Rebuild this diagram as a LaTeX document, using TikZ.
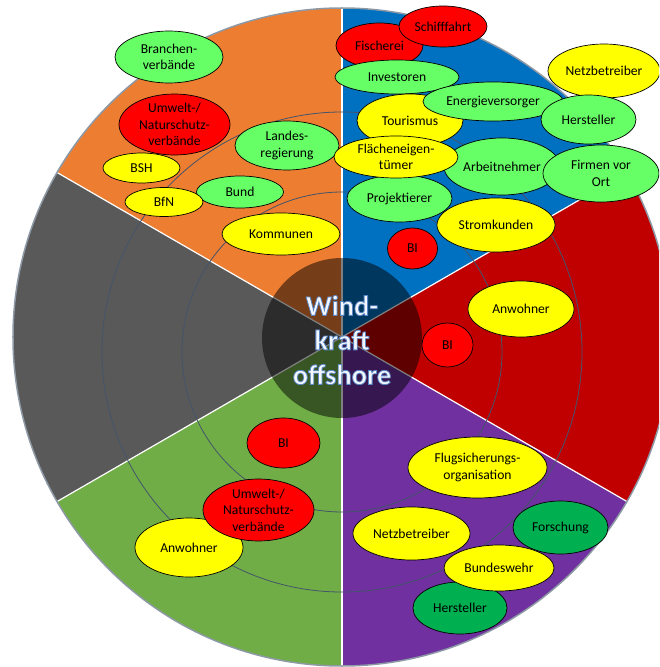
\documentclass[tikz,border=0pt]{standalone}
\usepackage{fontspec}
\setmainfont{Carlito}
\usepackage{tikz}
\usetikzlibrary{shapes}
\definecolor{secOrange}{HTML}{ED7D31}
\definecolor{secBlue}{HTML}{0070C0}
\definecolor{secRed}{HTML}{C00000}
\definecolor{secPurple}{HTML}{7030A0}
\definecolor{secGreen}{HTML}{70AD47}
\definecolor{secGray}{HTML}{595959}
\definecolor{ringLine}{HTML}{44546A}
\definecolor{rimLine}{HTML}{8E99A6}
\definecolor{proGreen}{HTML}{66FF66}
\definecolor{conRed}{HTML}{FF0000}
\definecolor{neuYellow}{HTML}{FFFF00}
\definecolor{resGreen}{HTML}{00B050}
\definecolor{hubText}{HTML}{F4F8FD}
\newcommand{\glowon}{\special{pdf:literal direct 2 Tr 0.8 w 0.36 0.53 0.78 RG}}
\newcommand{\glowoff}{\special{pdf:literal direct 0 Tr}}
\tikzstyle{stake}=[ellipse,draw=black,line width=0.7pt,inner sep=0mm,align=center,text=black,font=\fontsize{13.6}{16.5}\selectfont]
\tikzstyle{pro}=[stake,fill=proGreen]
\tikzstyle{contra}=[stake,fill=conRed]
\tikzstyle{neutral}=[stake,fill=neuYellow]
\tikzstyle{research}=[stake,fill=resGreen]
\tikzstyle{hub}=[align=center,text=hubText,font=\fontsize{28.5}{34.5}\selectfont\bfseries]
\tikzset{wh/.style 2 args={minimum width=#1pt,minimum height=#2pt}}

\begin{document}
\begin{tikzpicture}[x=1pt,y=1pt]
      \useasboundingbox (-342,-330) rectangle (317,337);
      \clip (-342,-330) rectangle (317,337);
      \foreach \a/\c in {90/secOrange,150/secGray,210/secGreen,270/secPurple,330/secRed,30/secBlue}
        \fill[\c] (0,0) -- (\a:329) arc[start angle=\a,delta angle=60,radius=329pt] -- cycle;
      \foreach \a in {30,90,...,330}
        \draw[white,line width=1.2pt] (0,0) -- (\a:329);
      \draw[ringLine,line width=0.8pt] (0,-15) circle (160pt);
      \draw[ringLine,line width=0.8pt] (0,-15) circle (240pt);
      \draw[rimLine,line width=1.5pt] (0,0) circle (329pt);
      \fill[black,opacity=0.5] (0,-1) circle (80pt);
      \node[hub] at (0,-3) (hubtext) {\glowon Wind-\\kraft\\offshore\glowoff};

      \node[pro,wh={108}{52}] at (-173,280) (branchen) {Branchen-\\verbände};
      \node[contra,wh={111}{61}] at (-167.5,212.5) (umweltO) {Umwelt-/\\Naturschutz-\\verbände};
      \node[pro,wh={104}{49}] at (-55,191.5) (landes) {Landes-\\regierung};
      \node[neutral,wh={77}{30}] at (-200.5,169) (bsh) {BSH};
      \node[pro,wh={87}{32}] at (-102,145) (bund) {Bund};
      \node[neutral,wh={78}{29}] at (-178,135) (bfn) {BfN};
      \node[neutral,wh={118}{42}] at (-61,103) (kommunen) {Kommunen};

      \node[contra,wh={87}{45}] at (37.5,291.5) (fischerei) {Fischerei};
      \node[contra,wh={88}{41}] at (101,310.5) (schifffahrt) {Schifffahrt};
      \node[pro,wh={124}{34}] at (55,260) (investoren) {Investoren};
      \node[neutral,wh={112}{54}] at (262,266) (netzB) {Netzbetreiber};
      \node[neutral,wh={106}{53}] at (68,216.5) (tourismus) {Tourismus};
      \node[pro,wh={140}{39}] at (151,235.5) (energie) {Energieversorger};
      \node[pro,wh={95}{49}] at (246.5,217.5) (herstellerB) {Hersteller};
      \node[pro,wh={105}{47}] at (57.5,138.5) (projektierer) {Projektierer};
      \node[pro,wh={116}{57}] at (160,170.5) (arbeitnehmer) {Arbeitnehmer};
      \node[neutral,wh={124}{42}] at (54,180) (flaechen) {Flächeneigen-\\tümer};
      \node[pro,wh={116}{57}] at (259,163.5) (firmen) {Firmen vor\\Ort};
      \node[neutral,wh={118}{54}] at (154,112) (stromkunden) {Stromkunden};
      \node[contra,wh={50}{41}] at (70.5,88.5) (biB) {BI};

      \node[neutral,wh={106}{56}] at (179,28) (anwohnerR) {Anwohner};
      \node[contra,wh={51}{44}] at (105.5,-8) (biR) {BI};

      \node[neutral,wh={139}{61}] at (135.5,-130.5) (flug) {Flugsicherungs-\\organisation};
      \node[neutral,wh={117}{53}] at (69.5,-196.5) (netzP) {Netzbetreiber};
      \node[research,wh={95}{53}] at (218.5,-190.5) (forschung) {Forschung};
      \node[research,wh={94}{52}] at (118,-271) (herstellerP) {Hersteller};
      \node[neutral,wh={110}{46}] at (157,-231) (bundeswehr) {Bundeswehr};

      \node[contra,wh={73}{50}] at (-58.5,-106) (biG) {BI};
      \node[neutral,wh={108}{59}] at (-153,-210.5) (anwohnerG) {Anwohner};
      \node[contra,wh={111}{62}] at (-83.5,-173) (umweltG) {Umwelt-/\\Naturschutz-\\verbände};
\end{tikzpicture}
\end{document}
